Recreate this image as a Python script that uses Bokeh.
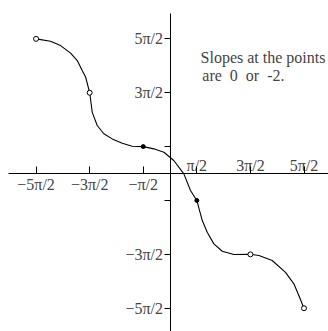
import math
from bokeh.plotting import figure
from bokeh.models import LinearAxis, FixedTicker, Range1d, Label
from bokeh.embed import file_html
from bokeh.resources import INLINE

PI = math.pi

# Curve (data units, radians)
curve_x = [-7.85, -7.01, -6.42, -5.83, -5.44, -5.15, -4.95, -4.71, -4.56, -4.27,
           -3.88, -3.39, -2.80, -2.22, -1.57, -0.95, -0.36, 0.22, 0.81, 1.20,
           1.57, 1.89, 2.18, 2.57, 3.06, 3.74, 4.71, 5.21, 5.99, 6.77,
           7.26, 7.55, 7.85]
curve_y = [7.85, 7.71, 7.46, 7.02, 6.59, 6.01, 5.63, 4.71, 3.57, 2.80,
           2.32, 2.02, 1.77, 1.59, 1.57, 1.44, 1.24, 0.76, -0.02, -0.99,
           -1.57, -2.74, -3.42, -4.10, -4.53, -4.72, -4.71, -4.78, -5.07, -5.76,
           -6.43, -7.11, -7.85]

# Marked points: open circles and filled dots
open_x = [-2.5 * PI, -1.5 * PI, 1.5 * PI, 2.5 * PI]
open_y = [2.5 * PI, 1.5 * PI, -1.5 * PI, -2.5 * PI]
dot_x = [-0.5 * PI, 0.5 * PI]
dot_y = [0.5 * PI, -0.5 * PI]

# Ticks and labels
tick_values = [-2.5 * PI, -1.5 * PI, -0.5 * PI, 0.5 * PI, 1.5 * PI, 2.5 * PI]
x_tick_labels = ["\u22125\u03c0/2", "\u22123\u03c0/2", "\u2212\u03c0/2", "\u03c0/2", "3\u03c0/2", "5\u03c0/2"]
y_tick_labels = ["\u22125\u03c0/2", "\u22123\u03c0/2", "", "", "3\u03c0/2", "5\u03c0/2"]
note_lines = ["Slopes at the points", "are \u00a00 \u00a0or \u00a0-2."]

FONT = "Liberation Serif"
X0, X1 = -9.94, 9.29
Y0, Y1 = -9.21, 10.09

p = figure(width=328, height=331, x_range=Range1d(X0, X1), y_range=Range1d(Y0, Y1),
           x_axis_type=None, y_axis_type=None, toolbar_location=None,
           output_backend="svg", min_border=0, outline_line_color=None)

# x axis: ticks up, negative labels below
xa = LinearAxis(fixed_location=0, ticker=FixedTicker(ticks=tick_values),
                major_label_overrides={v: (l if v < 0 else "") for v, l in zip(tick_values, x_tick_labels)},
                major_tick_in=7, major_tick_out=0, minor_tick_in=0, minor_tick_out=0,
                major_label_text_font=FONT, major_label_text_font_size="16px",
                major_label_standoff=2, axis_line_color="black", bounds=(-9.47, X1))
p.add_layout(xa, "below")

# positive x labels sit above the axis
xa2 = LinearAxis(fixed_location=0, ticker=FixedTicker(ticks=[v for v in tick_values if v > 0]),
                 major_label_overrides={v: l for v, l in zip(tick_values, x_tick_labels) if v > 0},
                 major_tick_in=0, major_tick_out=0, minor_tick_in=0, minor_tick_out=0,
                 major_label_text_font=FONT, major_label_text_font_size="16px",
                 major_label_standoff=0, axis_line_color=None)
p.add_layout(xa2, "above")

ya = LinearAxis(fixed_location=0, ticker=FixedTicker(ticks=tick_values),
                major_label_overrides={v: l for v, l in zip(tick_values, y_tick_labels)},
                major_tick_in=0, major_tick_out=6, minor_tick_in=0, minor_tick_out=0,
                major_label_text_font=FONT, major_label_text_font_size="16px",
                major_label_standoff=1, axis_line_color="black", bounds=(Y0, 9.33))
p.add_layout(ya, "left")

p.line(curve_x, curve_y, line_color="black", line_width=1.1)
p.scatter(open_x, open_y, marker="circle", size=5, fill_color="white",
          line_color="black", line_width=1)
p.scatter(dot_x, dot_y, marker="circle", size=4, fill_color="black",
          line_color="black")

p.add_layout(Label(x=1.79, y=6.76, text=note_lines[0], text_font=FONT,
                   text_font_size="16px", text_baseline="alphabetic"))
p.add_layout(Label(x=1.89, y=5.71, text=note_lines[1], text_font=FONT,
                   text_font_size="16px", text_baseline="alphabetic"))

open("out.html", "w").write(file_html(p, INLINE))
